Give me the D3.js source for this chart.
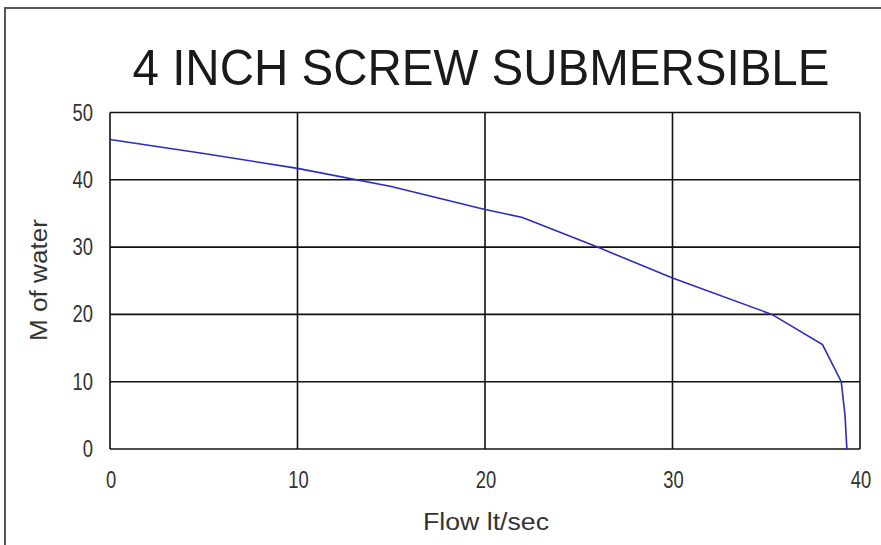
<!DOCTYPE html>
<html><head><meta charset="utf-8">
<script src="https://cdn.jsdelivr.net/npm/d3@7"></script>
<style>body{margin:0;background:#fff}svg{display:block}</style>
</head><body>
<svg id="c" width="881" height="545"></svg>
<script>
const title = "4 INCH SCREW SUBMERSIBLE";
const xLabel = "Flow lt/sec";
const yLabel = "M of water";
const flow = [0, 5, 10, 15, 20, 22, 26, 30, 35.3, 38, 39, 39.2, 39.3];
const head = [46, 43.9, 41.7, 39, 35.6, 34.4, 30, 25.4, 20, 15.5, 10, 5, 0];
const xTicks = [0, 10, 20, 30, 40];
const yTicks = [0, 10, 20, 30, 40, 50];

const svg = d3.select("#c");
svg.append("rect").attr("x",5).attr("y",8).attr("width",900).attr("height",600)
  .attr("fill","none").attr("stroke","#555").attr("stroke-width",2);

const x = d3.scaleLinear().domain([0,40]).range([110,860]);
const y = d3.scaleLinear().domain([0,50]).range([449,112.5]);
const font = "'Liberation Sans',Arial,sans-serif";

const g = svg.append("g");
g.selectAll(".vx").data(xTicks).join("line")
  .attr("x1",d=>x(d)).attr("x2",d=>x(d)).attr("y1",y(0)).attr("y2",y(50))
  .attr("stroke","#111").attr("stroke-width",1.6);
g.selectAll(".hy").data(yTicks).join("line")
  .attr("y1",d=>y(d)).attr("y2",d=>y(d)).attr("x1",x(0)).attr("x2",x(40))
  .attr("stroke","#111").attr("stroke-width",1.6);

g.selectAll(".yt").data(yTicks).join("text")
  .attr("transform",d=>`translate(93,${y(d)+8}) scale(0.8,1)`).attr("text-anchor","end")
  .attr("font-family",font).attr("font-size",23).attr("fill","#333").text(d=>d);
g.selectAll(".xt").data(xTicks).join("text")
  .attr("transform",d=>`translate(${x(d)+1},488) scale(0.8,1)`).attr("text-anchor","middle")
  .attr("font-family",font).attr("font-size",23).attr("fill","#333").text(d=>d);

const line = d3.line().x((d,i)=>x(flow[i])).y((d,i)=>y(head[i]));
g.append("path").datum(flow).attr("d",line).attr("fill","none")
  .attr("stroke","#2b2bc0").attr("stroke-width",1.6);

svg.append("text").attr("x",481).attr("y",85).attr("text-anchor","middle")
  .attr("font-family",font).attr("font-size",50)
  .attr("textLength",697).attr("lengthAdjust","spacingAndGlyphs")
  .attr("fill","#1a1a1a").text(title);
svg.append("text").attr("x",486).attr("y",530).attr("text-anchor","middle")
  .attr("font-family",font).attr("font-size",23)
  .attr("textLength",126).attr("lengthAdjust","spacingAndGlyphs")
  .attr("fill","#333").text(xLabel);
svg.append("text").attr("transform","translate(47,280) rotate(-90)").attr("text-anchor","middle")
  .attr("font-family",font).attr("font-size",23)
  .attr("textLength",122).attr("lengthAdjust","spacingAndGlyphs")
  .attr("fill","#333").text(yLabel);
</script>
</body></html>
